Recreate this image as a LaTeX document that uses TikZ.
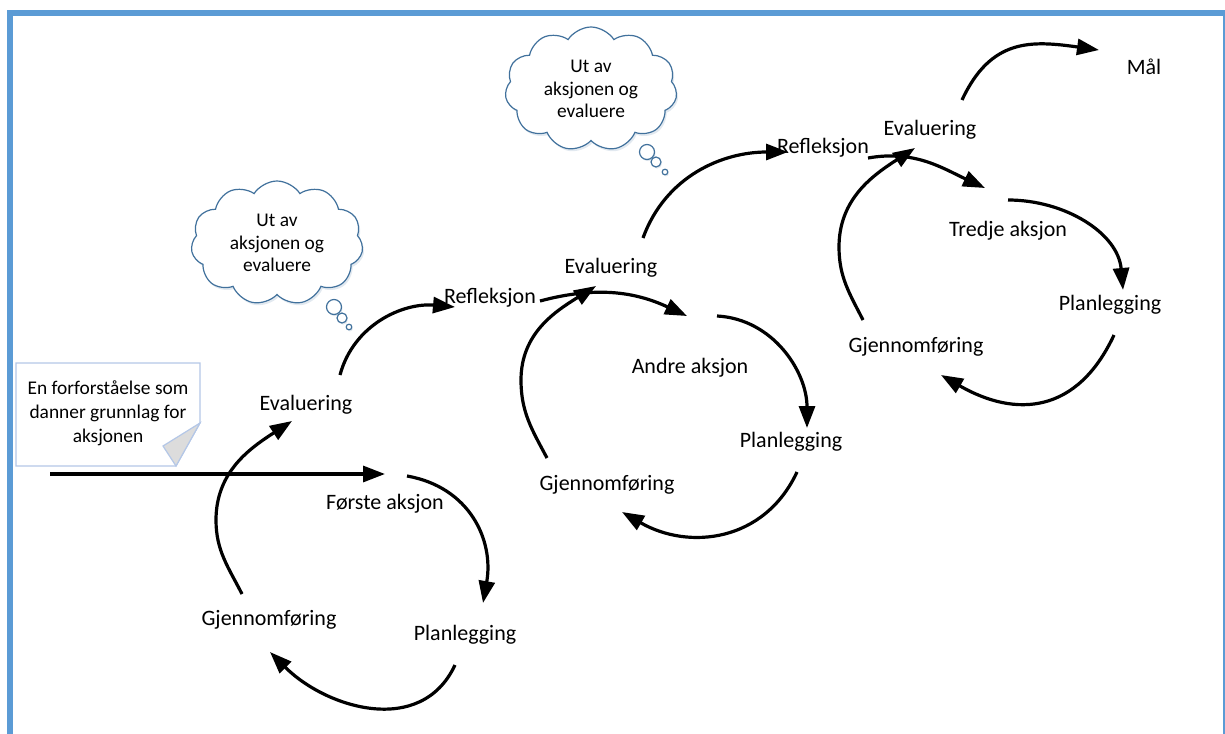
\documentclass[tikz,border=0pt]{standalone}
\usepackage{fontspec}
\setmainfont{Carlito}
\usetikzlibrary{shapes.symbols, arrows.meta, shadows, positioning}

\definecolor{frameblue}{HTML}{5B9BD5}
\definecolor{cloudblue}{HTML}{41719C}
\definecolor{noteblue}{HTML}{B4C7E7}
\definecolor{foldgray}{HTML}{DCDCDC}

\tikzset{
    lbl/.style={font=\fontsize{11}{13}\selectfont, inner sep=1pt},
    flow/.style={line width=1.6pt, -{Triangle[length=11pt, width=8pt]}},
    notetext/.style={align=center, font=\fontsize{9.7}{12}\selectfont, inner sep=0pt},
    thought/.style={cloud, cloud puffs=11, cloud puff arc=115, aspect=1.4, draw=cloudblue,
        line width=0.6pt, fill=white, align=center, inner sep=0pt,
        minimum width=86pt, minimum height=62pt, font=\fontsize{9.7}{11.3}\selectfont,
        drop shadow={shadow xshift=0.8pt, shadow yshift=-1.2pt, fill=cloudblue!30, opacity=0.5}},
    bubble/.style={circle, draw=cloudblue, line width=0.6pt, fill=white, inner sep=0pt,
        drop shadow={shadow xshift=0.5pt, shadow yshift=-0.8pt, fill=cloudblue!30, opacity=0.5}}
}

\begin{document}
\begin{tikzpicture}[x=0.5pt, y=0.5pt]
    \useasboundingbox (0,0) rectangle (1225,-733);

    % Frame
    \draw[frameblue, line width=3pt] (10,-740) -- (10,-13) -- (1225.5,-13) -- (1225.5,-740);

    % Note
    \draw[noteblue, line width=0.6pt, fill=white] (16,-363) -- (200,-363) -- (200,-423)
        -- (176,-466) -- (16,-466) -- cycle;
    \draw[noteblue, line width=0.6pt, fill=foldgray] (200,-423) -- (163,-446) -- (176,-466) -- cycle;
    \node[notetext] (note) at (108,-413) {En forforståelse som\\danner grunnlag for\\aksjonen};

    % Thought clouds
    \node[thought] (think1) at (277,-243) {Ut av\\aksjonen og\\evaluere};
    \node[bubble, minimum size=7.5pt] (b11) at (334,-307) {};
    \node[bubble, minimum size=5pt] (b12) at (342,-318) {};
    \node[bubble, minimum size=2.8pt] (b13) at (349,-327) {};

    \node[thought] (think2) at (591,-89) {Ut av\\aksjonen og\\evaluere};
    \node[bubble, minimum size=7.5pt] (b21) at (647,-152) {};
    \node[bubble, minimum size=5pt] (b22) at (656,-162) {};
    \node[bubble, minimum size=2.8pt] (b23) at (665,-172) {};

    % Labels
    \node[lbl] (eval1) at (306,-405) {Evaluering};
    \node[lbl] (act1) at (385,-504) {Første aksjon};
    \node[lbl] (plan1) at (465,-635) {Planlegging};
    \node[lbl] (impl1) at (269,-620) {Gjennomføring};
    \node[lbl] (refl1) at (490,-298) {Refleksjon};
    \node[lbl] (eval2) at (611,-268) {Evaluering};
    \node[lbl] (act2) at (690,-368) {Andre aksjon};
    \node[lbl] (plan2) at (791,-442) {Planlegging};
    \node[lbl] (impl2) at (607,-485) {Gjennomføring};
    \node[lbl] (refl2) at (823,-148) {Refleksjon};
    \node[lbl] (eval3) at (930,-130) {Evaluering};
    \node[lbl] (act3) at (1008,-231) {Tredje aksjon};
    \node[lbl] (plan3) at (1110,-305) {Planlegging};
    \node[lbl] (impl3) at (916,-347) {Gjennomføring};
    \node[lbl] (goal) at (1144,-67) {Mål};

    % Arc ends
    \coordinate (a0s) at (50,-474);   \coordinate (a0e) at (385,-474);
    \coordinate (a1s) at (407,-476);  \coordinate (a1e) at (483,-603);
    \coordinate (a2s) at (455,-665);  \coordinate (a2e) at (270,-652);
    \coordinate (a3s) at (242,-594);  \coordinate (a3m) at (216,-520);  \coordinate (a3e) at (292,-421);
    \coordinate (a4s) at (340,-375);  \coordinate (a4e) at (455,-307);
    \coordinate (b1s) at (540,-301);  \coordinate (b1e) at (687,-316);
    \coordinate (b2s) at (717,-316);  \coordinate (b2e) at (807,-428);
    \coordinate (b3s) at (797,-472);  \coordinate (b3e) at (622,-512);
    \coordinate (b4s) at (547,-458);  \coordinate (b4m) at (521,-380);  \coordinate (b4e) at (596,-286);
    \coordinate (b5s) at (643,-238);  \coordinate (b5e) at (788,-152);
    \coordinate (c1s) at (868,-158);  \coordinate (c1e) at (985,-188);
    \coordinate (c2s) at (1008,-200); \coordinate (c2e) at (1123,-290);
    \coordinate (c3s) at (1114,-335); \coordinate (c3e) at (941,-375);
    \coordinate (c4s) at (863,-320);  \coordinate (c4m) at (839,-247);  \coordinate (c4e) at (915,-148);
    \coordinate (c5s) at (962,-100);  \coordinate (c5e) at (1099,-50);

    % First cycle
    \draw[flow] (a0s) -- (a0e);
    \draw[flow] (a1s) to[out=-10, in=80, looseness=1.1] (a1e);
    \draw[flow] (a2s) to[out=-115, in=-45, looseness=1.1] (a2e);
    \draw[flow] (a3s) to[out=117, in=-90] (a3m) to[out=90, in=-147] (a3e);
    \draw[flow] (a4s) to[out=75, in=175] (a4e);

    % Second cycle
    \draw[flow] (b1s) to[out=15, in=155] (b1e);
    \draw[flow] (b2s) to[out=-3, in=90] (b2e);
    \draw[flow] (b3s) to[out=-115, in=-30, looseness=1.1] (b3e);
    \draw[flow] (b4s) to[out=118, in=-90] (b4m) to[out=90, in=-148] (b4e);
    \draw[flow] (b5s) to[out=70, in=180] (b5e);

    % Third cycle
    \draw[flow] (c1s) to[out=10, in=155] (c1e);
    \draw[flow] (c2s) to[out=0, in=95] (c2e);
    \draw[flow] (c3s) to[out=-115, in=-30, looseness=1.25] (c3e);
    \draw[flow] (c4s) to[out=117, in=-90] (c4m) to[out=90, in=-147] (c4e);
    \draw[flow] (c5s) to[out=65, in=172, looseness=1.2] (c5e);
\end{tikzpicture}
\end{document}
